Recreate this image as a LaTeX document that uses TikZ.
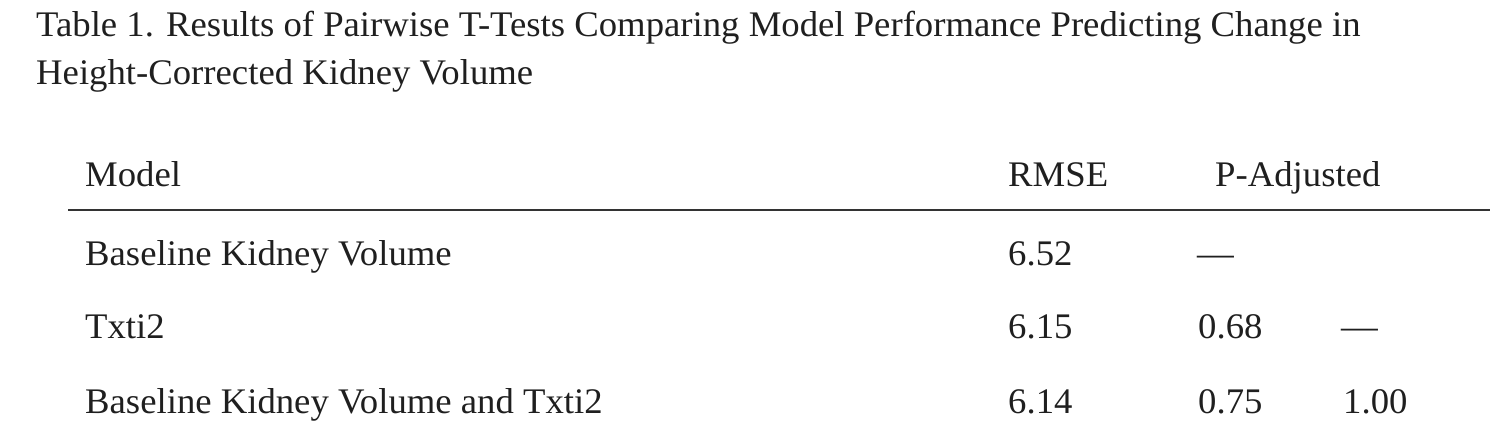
\documentclass[tikz,border=0pt]{standalone}
\usepackage{fontspec}
\setmainfont{Liberation Serif}[FakeStretch=1.02]
\begin{document}
\begin{tikzpicture}[x=1pt,y=-1pt,
  txt/.style={anchor=base west,inner sep=0pt,font=\fontsize{36}{40}\selectfont,text=black!88}]
\useasboundingbox (0,0) rectangle (1504,440);
\node[txt] (t1) at (36,36) {Table 1. Results of Pairwise T-Tests Comparing Model Performance Predicting Change in};
\node[txt] (t2) at (36,84) {Height-Corrected Kidney Volume};
\node[txt] (hm) at (85,186) {Model};
\node[txt] (hr) at (1008,186) {RMSE};
\node[txt] (hp) at (1215,186) {P-Adjusted};
\coordinate (rl) at (68,210);
\coordinate (rr) at (1490,210);
\draw[line width=2pt,black!80] (rl) -- (rr);
\node[txt] (m1) at (85,265) {Baseline Kidney Volume};
\node[txt] (r1) at (1008,265) {6.52};
\node[txt] (p1) at (1197,265) {—};
\node[txt] (m2) at (85,338) {Txti2};
\node[txt] (r2) at (1008,338) {6.15};
\node[txt] (p2) at (1198,338) {0.68};
\node[txt] (q2) at (1341,338) {—};
\node[txt] (m3) at (85,413) {Baseline Kidney Volume and Txti2};
\node[txt] (r3) at (1008,413) {6.14};
\node[txt] (p3) at (1198,413) {0.75};
\node[txt] (q3) at (1343,413) {1.00};
\end{tikzpicture}
\end{document}
